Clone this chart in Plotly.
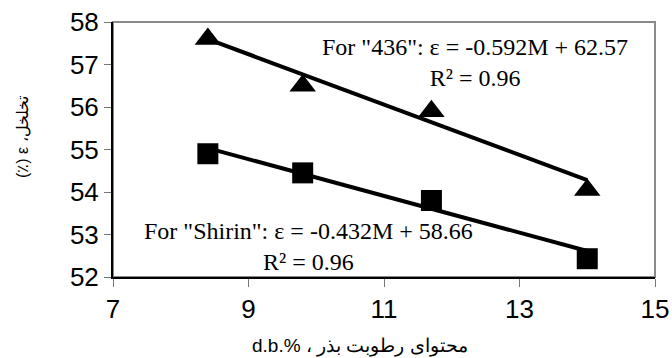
import numpy as np
import plotly.graph_objects as go

# Data
moisture = [8.4, 9.8, 11.7, 14.0]
porosity_436 = [57.6, 56.5, 55.9, 54.05]
porosity_shirin = [54.9, 54.45, 53.8, 52.43]
fit_436 = [-0.592, 62.57]
fit_shirin = [-0.432, 58.66]
label_436 = 'For "436": ε = -0.592M + 62.57<br>R² = 0.96'
label_shirin = 'For "Shirin": ε = -0.432M + 58.66<br>R² = 0.96'
x_title = "d.b.% ، محتوای رطوبت بذر"
y_title = "(٪) ε ،تخلخل"

xs = np.array([min(moisture), max(moisture)])

fig = go.Figure()
fig.add_trace(go.Scatter(x=xs, y=fit_436[0] * xs + fit_436[1], mode="lines",
                         line=dict(color="black", width=4), showlegend=False))
fig.add_trace(go.Scatter(x=xs, y=fit_shirin[0] * xs + fit_shirin[1], mode="lines",
                         line=dict(color="black", width=4), showlegend=False))
fig.add_trace(go.Scatter(x=moisture, y=porosity_436, mode="markers",
                         marker=dict(symbol="triangle-up", size=23, color="black"),
                         showlegend=False))
fig.add_trace(go.Scatter(x=moisture, y=porosity_shirin, mode="markers",
                         marker=dict(symbol="square", size=21, color="black"),
                         showlegend=False))

serif = dict(family="Liberation Serif, Times New Roman, serif", size=24, color="black")
fig.add_annotation(x=12.35, y=57.04, text=label_436, showarrow=False, font=serif,
                   align="center", xanchor="center", yanchor="middle")
fig.add_annotation(x=9.89, y=52.72, text=label_shirin, showarrow=False, font=serif,
                   align="center", xanchor="center", yanchor="middle")

sans = "Liberation Sans, Arial, sans-serif"
fig.add_annotation(xref="paper", yref="paper", x=(360 - 113) / 542, y=(277 - 346) / 255,
                   text=x_title, showarrow=False, xanchor="center", yanchor="middle",
                   font=dict(size=19, family=sans, color="black"))
fig.add_annotation(xref="paper", yref="paper", x=(22 - 113) / 542, y=(277 - 137) / 255,
                   text=y_title, textangle=-90, showarrow=False,
                   xanchor="center", yanchor="middle",
                   font=dict(size=16, family=sans, color="black"))

# gray frame
fig.add_shape(type="rect", xref="paper", yref="paper", x0=0, y0=0, x1=1, y1=1,
              line=dict(color="#8a8a8a", width=2), layer="below")

fig.update_layout(
    width=672, height=358,
    margin=dict(l=113, r=17, t=22, b=81),
    plot_bgcolor="white", paper_bgcolor="white",
    font=dict(family=sans, color="black"),
    xaxis=dict(range=[7, 15], tick0=7, dtick=2, showgrid=False, zeroline=False,
               showline=True, linecolor="black", linewidth=2, automargin=False,
               ticks="outside", ticklen=8, tickcolor="#777777", tickwidth=1,
               tickfont=dict(size=26, family=sans)),
    yaxis=dict(range=[52, 58], dtick=1, showgrid=False, zeroline=False,
               showline=True, linecolor="black", linewidth=2, automargin=False,
               ticks="outside", ticklen=7, tickcolor="#777777", tickwidth=1,
               tickfont=dict(size=26, family=sans)),
)

fig.write_html("out.html", config={"displayModeBar": False},
               post_script="document.body.style.margin='0px';document.body.style.overflow='hidden';")
